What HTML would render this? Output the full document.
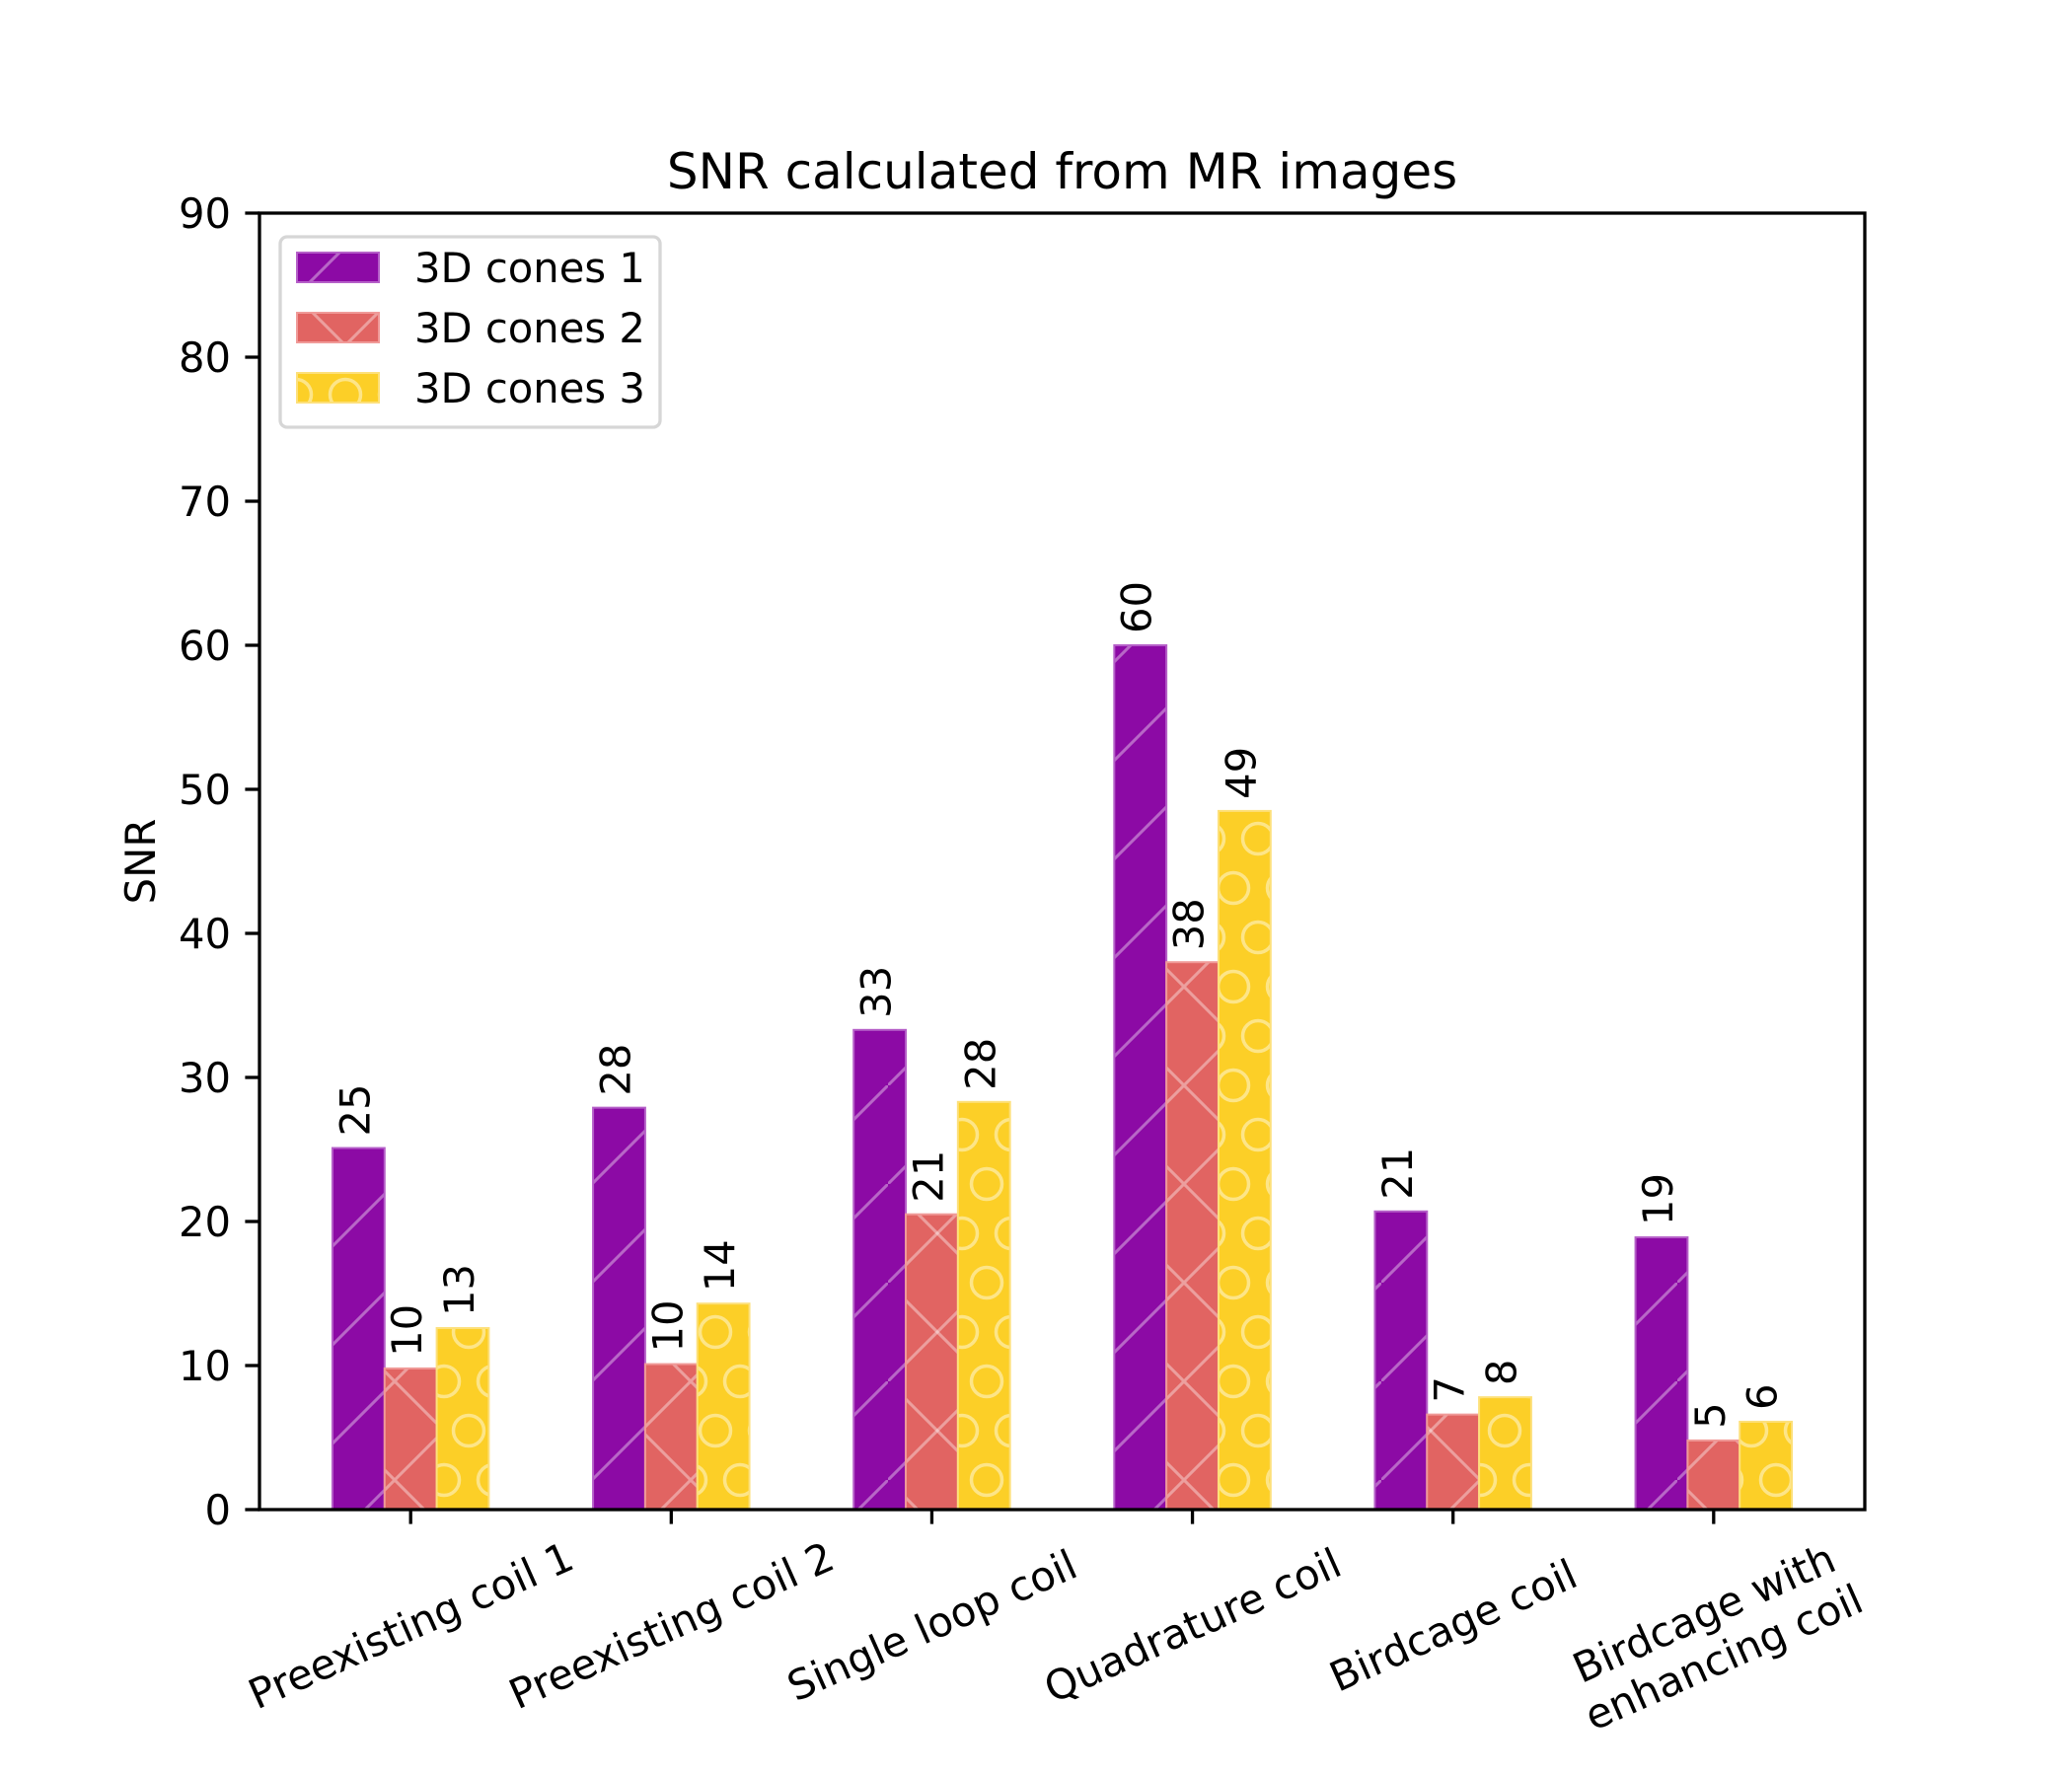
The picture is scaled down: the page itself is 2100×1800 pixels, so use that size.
<!DOCTYPE html>
<html><head><meta charset="utf-8"><style>
html,body{margin:0;padding:0;background:#fff;}
svg{display:block;font-family:"DejaVu Sans","Liberation Sans",sans-serif;}
</style></head><body>
<svg id="chart" width="2100" height="1800" viewBox="0 0 2100 1800" xmlns="http://www.w3.org/2000/svg">
<defs>
<pattern id="hatch-slash" patternUnits="userSpaceOnUse" width="100" height="100">
<line x1="-10" y1="110" x2="110" y2="-10" stroke="rgba(255,255,255,0.38)" stroke-width="3"/>
</pattern>
<pattern id="hatch-cross" patternUnits="userSpaceOnUse" width="100" height="100">
<line x1="-10" y1="110" x2="110" y2="-10" stroke="rgba(255,255,255,0.38)" stroke-width="3"/>
<line x1="-10" y1="-10" x2="110" y2="110" stroke="rgba(255,255,255,0.38)" stroke-width="3"/>
</pattern>
<pattern id="hatch-circle" patternUnits="userSpaceOnUse" width="50" height="100">
<circle cx="25" cy="50" r="15.5" fill="none" stroke="rgba(255,255,255,0.45)" stroke-width="3.5"/>
<circle cx="0" cy="0" r="15.5" fill="none" stroke="rgba(255,255,255,0.45)" stroke-width="3.5"/>
<circle cx="50" cy="0" r="15.5" fill="none" stroke="rgba(255,255,255,0.45)" stroke-width="3.5"/>
<circle cx="0" cy="100" r="15.5" fill="none" stroke="rgba(255,255,255,0.45)" stroke-width="3.5"/>
<circle cx="50" cy="100" r="15.5" fill="none" stroke="rgba(255,255,255,0.45)" stroke-width="3.5"/>
</pattern>
</defs>
<g id="plot"></g>
</svg>
<script>
const categories = ["Preexisting coil 1","Preexisting coil 2","Single loop coil","Quadrature coil","Birdcage coil","Birdcage with\nenhancing coil"];
const seriesNames = ["3D cones 1","3D cones 2","3D cones 3"];
const cones1 = [25.1, 27.9, 33.3, 60.0, 20.7, 18.9];
const cones2 = [9.8, 10.1, 20.5, 38.0, 6.6, 4.8];
const cones3 = [12.6, 14.3, 28.3, 48.5, 7.8, 6.1];
const valueLabels1 = ["25","28","33","60","21","19"];
const valueLabels2 = ["10","10","21","38","7","5"];
const valueLabels3 = ["13","14","28","49","8","6"];
const yTicks = [0,10,20,30,40,50,60,70,80,90];

const NS = "http://www.w3.org/2000/svg";
const L = 263, R = 1890, T = 216, B = 1530;
const xMin = -0.58, xMax = 5.58, yMax = 90;
const xs = v => L + (v - xMin) / (xMax - xMin) * (R - L);
const ys = v => B - v / yMax * (B - T);
const g = document.getElementById('plot');
function mk(tag, attrs, parent) {
  const e = document.createElementNS(NS, tag);
  for (const k in attrs) e.setAttribute(k, attrs[k]);
  (parent || g).appendChild(e);
  return e;
}
const colors = ["#8c0aa5", "#e16462", "#fccf27"];
const edges = ["#b55fc8", "#f09a98", "#fde07a"];
const hatches = ["url(#hatch-slash)", "url(#hatch-cross)", "url(#hatch-circle)"];
const series = [cones1, cones2, cones3];
const labels = [valueLabels1, valueLabels2, valueLabels3];
const width = 0.2;

series.forEach((vals, s) => {
  vals.forEach((v, i) => {
    const c = i + (s - 1) * width;
    const x0 = xs(c - width / 2), x1 = xs(c + width / 2);
    const bar = mk('rect', {x: x0, y: ys(v), width: x1 - x0, height: ys(0) - ys(v), fill: colors[s]});
    
    
    const hb = mk('rect', {x: x0, y: ys(v), width: x1 - x0, height: ys(0) - ys(v), fill: hatches[s], stroke: edges[s], 'stroke-width': 2});
    
    
    const tx = (x0 + x1) / 2 + 11, ty = ys(v) - 12;
    const t = mk('text', {x: tx, y: ty, transform: `rotate(-90 ${tx} ${ty})`, 'font-size': 41.7, fill: '#000'});
    t.textContent = labels[s][i];
    
    
  });
});

const frame = mk('rect', {x: L, y: T, width: R - L, height: B - T, fill: 'none', stroke: '#000', 'stroke-width': 3.3});



yTicks.forEach(v => {
  const y = ys(v);
  const tk = mk('line', {x1: L - 14.6, x2: L, y1: y, y2: y, stroke: '#000', 'stroke-width': 3.3});
  
  
  const t = mk('text', {x: L - 29, y: y + 15, 'text-anchor': 'end', 'font-size': 41.7});
  t.textContent = v;
  
  
});

categories.forEach((c, i) => {
  const x = xs(i);
  const tk = mk('line', {x1: x, x2: x, y1: B, y2: B + 14.6, stroke: '#000', 'stroke-width': 3.3});
  
  
  const lines = c.split('\n');
  const cy = lines.length > 1 ? 1657 : 1647;
  const t = mk('text', {x: x, y: cy, 'text-anchor': 'middle', 'font-size': 41.7, transform: `rotate(-24 ${x} ${cy})`});
  lines.forEach((ln, k) => {
    const sp = mk('tspan', {x: x, y: cy + 15 + (k - (lines.length - 1) / 2) * 49}, t);
    sp.textContent = ln;
  });
  
  
});

const yl = mk('text', {x: 157, y: (T + B) / 2, 'text-anchor': 'middle', 'font-size': 41.7, transform: `rotate(-90 157 ${(T + B) / 2})`});
yl.textContent = 'SNR';



const title = mk('text', {x: (L + R) / 2, y: 191, 'text-anchor': 'middle', 'font-size': 50});
title.textContent = 'SNR calculated from MR images';



const lg = mk('g', {});


mk('rect', {x: 284, y: 240, width: 385, height: 193, rx: 7, fill: '#fff', stroke: '#d6d6d6', 'stroke-width': 3.3}, lg);
const rowsY = [271, 332, 393];
seriesNames.forEach((n, s) => {
  const y = rowsY[s];
  mk('rect', {x: 301, y: y - 15, width: 83, height: 30, fill: colors[s]}, lg);
  const h = mk('rect', {x: 301, y: y - 15, width: 83, height: 30, fill: hatches[s], stroke: edges[s], 'stroke-width': 2}, lg);
  
  
  const t = mk('text', {x: 420, y: y + 15, 'font-size': 41.7}, lg);
  t.textContent = n;
  
  
});
</script>
</body></html>
